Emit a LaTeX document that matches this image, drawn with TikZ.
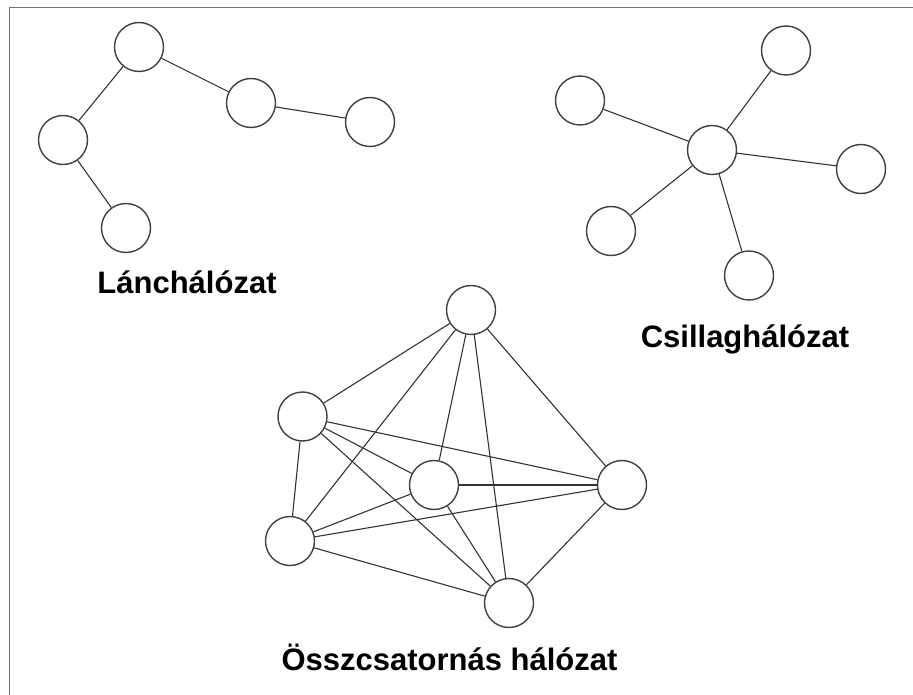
\documentclass[tikz,border=0pt]{standalone}
\usepackage{fontspec}
\setmainfont{Liberation Sans}
\begin{document}
\begin{tikzpicture}[x=1pt,y=-1pt,
  nd/.style={circle,draw=black!75,line width=1.4pt,minimum size=49pt,inner sep=0pt,fill=white},
  ln/.style={draw=black!80,line width=1.1pt},
  lbl/.style={anchor=base,font=\fontsize{31}{36}\selectfont\bfseries,text=black}]
\useasboundingbox (0,0) rectangle (913,695);
\draw[black!55,line width=1.6pt] (9.5,695) -- (9.5,7.5) -- (913,7.5);
% chain
\node[nd] (a) at (139,47) {};
\node[nd] (b) at (251,103) {};
\node[nd] (c) at (370,122) {};
\node[nd] (d) at (63,140) {};
\node[nd] (e) at (126,228) {};
\draw[ln] (d) -- (a);
\draw[ln] (a) -- (b);
\draw[ln] (b) -- (c);
\draw[ln] (d) -- (e);
\node[lbl] (l1) at (187,293) {Lánchálózat};
% star
\node[nd] (s0) at (712,150) {};
\node[nd] (s1) at (786,50.5) {};
\node[nd] (s2) at (580,100.5) {};
\node[nd] (s3) at (861,169) {};
\node[nd] (s4) at (611,231) {};
\node[nd] (s5) at (749,275.5) {};
\foreach \i in {1,...,5} \draw[ln] (s0) -- (s\i);
\node[lbl] (l2) at (745,347) {Csillaghálózat};
% full mesh
\node[nd] (m1) at (471,310) {};
\node[nd] (m2) at (302.5,416.5) {};
\node[nd] (m3) at (434,485) {};
\node[nd] (m4) at (622,485) {};
\node[nd] (m5) at (290,541) {};
\node[nd] (m6) at (509,603) {};
\foreach \i/\j in {1/2,1/3,1/4,1/5,1/6,2/3,2/4,2/5,2/6,3/4,3/5,3/6,4/5,4/6,5/6}
  \draw[ln] (m\i) -- (m\j);
\node[lbl] (l3) at (449.5,670) {Összcsatornás hálózat};
\end{tikzpicture}
\end{document}
